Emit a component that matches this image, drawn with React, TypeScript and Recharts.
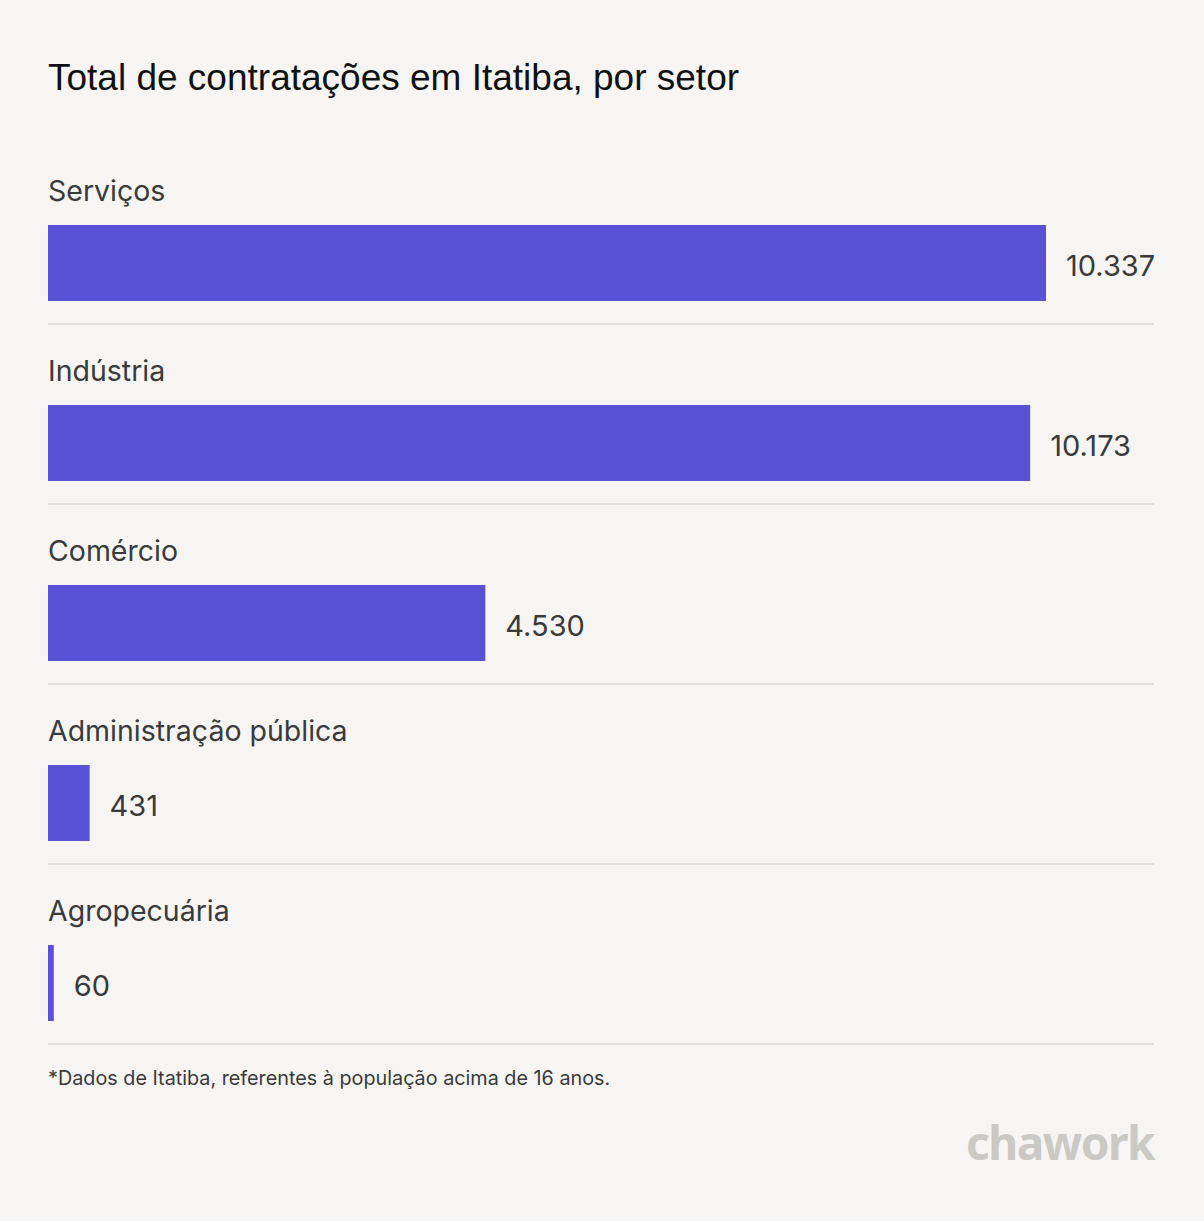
import React from "react";
import { BarChart, Bar, XAxis, YAxis, LabelList } from "recharts";

const categories = ["Serviços", "Indústria", "Comércio", "Administração pública", "Agropecuária"];
const values = [10337, 10173, 4530, 431, 60];
const maxValue = 10337;

const data = categories.map((name, i) => ({ name, value: values[i] }));

const fmt = (v: number) => String(v).replace(/\B(?=(\d{3})+(?!\d))/g, ".");

const BG = "#f6f5f3";
const BAR = "#5952d6";
const TEXT = "#3a3a3a";
const SEP = "#e0dedb";
const FONT = "Inter, 'Noto Sans', sans-serif";

const CategoryLabel = (props: any) => {
  const { x, y, height, value } = props;
  return (
    <g>
      <text x={x} y={y - 34} dy="0.36em" fontSize={28.5} fill={TEXT} fontFamily={FONT} textAnchor="start">
        {value}
      </text>
      <line x1={x} x2={x + 1106} y1={y + height + 23} y2={y + height + 23} stroke={SEP} strokeWidth={2} />
    </g>
  );
};

const ValueLabel = (props: any) => {
  const { x, y, width, height, value } = props;
  return (
    <text x={x + width + 20} y={y + height / 2 + 3} dy="0.36em" fontSize={29} fill={TEXT} fontFamily={FONT} textAnchor="start">
      {fmt(Number(value))}
    </text>
  );
};

export default function App() {
  return (
    <div style={{ position: "absolute", left: 0, top: 0, width: 1204, height: 1221, background: BG, overflow: "hidden" }}>
      <div style={{ position: "absolute", left: 48, top: 56, fontFamily: "'Liberation Sans', Arial, sans-serif", fontSize: 37, color: "#111", whiteSpace: "nowrap", lineHeight: "44px" }}>
        Total de contratações em Itatiba, por setor
      </div>
      <div style={{ position: "absolute", left: 0, top: 0 }}>
        <BarChart
          width={1204}
          height={1221}
          data={data}
          layout="vertical"
          margin={{ top: 173, right: 158, bottom: 148, left: 48 }}
          barCategoryGap={52}
        >
          <XAxis type="number" domain={[0, maxValue]} hide />
          <YAxis type="category" dataKey="name" hide />
          <Bar dataKey="value" fill={BAR} barSize={76} isAnimationActive={false}>
            <LabelList dataKey="name" content={<CategoryLabel />} />
            <LabelList dataKey="value" content={<ValueLabel />} />
          </Bar>
        </BarChart>
      </div>
      <div style={{ position: "absolute", left: 48, top: 1066, fontFamily: FONT, fontSize: 19.8, color: TEXT, whiteSpace: "nowrap", lineHeight: "24px" }}>
        *Dados de Itatiba, referentes à população acima de 16 anos.
      </div>
      <div style={{ position: "absolute", right: 50, top: 1112, fontFamily: "'Noto Sans', sans-serif", fontWeight: 700, fontSize: 46, color: "#cbc9c3", letterSpacing: -1.5, lineHeight: "60px" }}>
        chawork
      </div>
    </div>
  );
}
